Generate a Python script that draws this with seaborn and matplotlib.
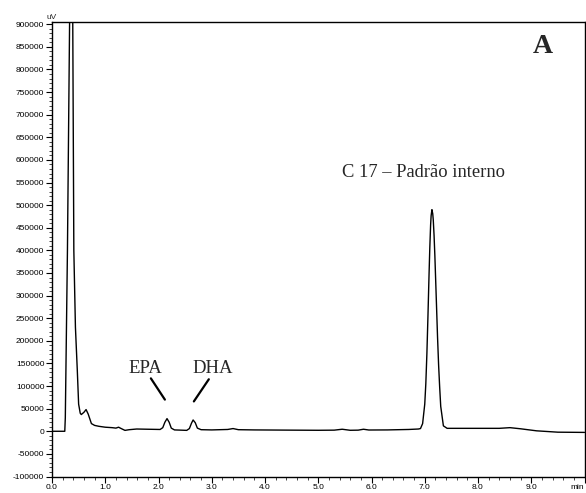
import numpy as np
import pandas as pd
import matplotlib
matplotlib.use("Agg")
import matplotlib.pyplot as plt
from matplotlib.ticker import MultipleLocator, FixedLocator
import seaborn as sns

# Chromatogram trace (time in min, signal in uV)
time_min = [0.00, 0.24, 0.25, 0.29, 0.33, 0.36, 0.39, 0.41, 0.44, 0.475, 0.50, 0.53, 0.55,
            0.60, 0.64, 0.68, 0.74, 0.80, 0.88, 1.00, 1.13, 1.20, 1.25, 1.30, 1.37, 1.45,
            1.59, 1.80, 2.03, 2.08, 2.12, 2.16, 2.20, 2.24, 2.30, 2.42, 2.53, 2.58, 2.62,
            2.65, 2.69, 2.73, 2.80, 3.00, 3.30, 3.40, 3.50, 3.80, 4.50, 5.00, 5.30, 5.45,
            5.60, 5.75, 5.85, 5.95, 6.30, 6.70, 6.88, 6.92, 6.96, 7.00, 7.02, 7.04, 7.06,
            7.08, 7.095, 7.11, 7.12, 7.135, 7.15, 7.16, 7.175, 7.19, 7.22, 7.24, 7.26,
            7.28, 7.30, 7.35, 7.42, 7.60, 8.00, 8.40, 8.60, 8.80, 9.10, 9.50, 10.0]
signal_uv = [0, 0, 30000, 400000, 900000, 1150000, 900000, 400000, 230000, 135000, 60000,
             40000, 37000, 42000, 48000, 38000, 17000, 13000, 11000, 9000, 8000, 7000, 9000,
             6000, 2000, 3500, 5000, 4500, 4000, 8000, 20000, 28000, 20000, 7000, 3000, 2500,
             2000, 6000, 18000, 25000, 19000, 7000, 3500, 3000, 4000, 6000, 3500, 3000, 2500,
             2200, 2500, 4500, 2200, 2500, 4500, 2800, 3000, 4000, 5000, 6000, 17000, 60000,
             105000, 171000, 254000, 344000, 406000, 456000, 477000, 490000, 481000, 467000,
             433000, 388000, 281000, 209000, 147000, 98000, 55000, 12000,
             6500, 6500, 6500, 6500, 8000, 5500, 1000, -2000, -2500]

x_tick_values = [0, 1, 2, 3, 4, 5, 6, 7, 8, 9, 10]
x_tick_labels = ["0.0", "1.0", "2.0", "3.0", "4.0", "5.0", "6.0", "7.0", "8.0", "9.0", "min"]

# Annotations
peak_labels = ["EPA", "DHA"]
peak_label_pos = [(1.76, 138000), (3.02, 138000)]
peak_pointer = [((1.857, 117000), (2.12, 70000)), ((2.945, 115000), (2.664, 66000))]
standard_label = "C 17 – Padrão interno"
panel_label = "A"

df = pd.DataFrame({"time": time_min, "signal": signal_uv})

sns.set_style("ticks")
plt.rcParams["font.family"] = ["Liberation Sans", "DejaVu Sans"]

fig = plt.figure(figsize=(5.86, 4.93), dpi=100)
ax = fig.add_axes([52 / 586, 1 - 476.5 / 493, (584.5 - 52) / 586, (476.5 - 22) / 493])

sns.lineplot(data=df, x="time", y="signal", ax=ax, color="black", lw=1.0,
             estimator=None, sort=False)

ax.set_xlim(0, 10)
ax.set_ylim(-100000, 905000)
ax.set_xlabel("")
ax.set_ylabel("")

ax.xaxis.set_major_locator(FixedLocator(x_tick_values))
ax.set_xticklabels(x_tick_labels)
ax.xaxis.set_minor_locator(MultipleLocator(0.2))
ax.yaxis.set_major_locator(MultipleLocator(50000))
ax.yaxis.set_minor_locator(MultipleLocator(10000))
ax.yaxis.set_major_formatter(matplotlib.ticker.FuncFormatter(lambda v, p: f"{int(round(v))}"))

ax.tick_params(axis="both", which="major", labelsize=6, length=4, width=0.8,
               direction="out", pad=1.5, colors="black")
ax.tick_params(axis="both", which="minor", length=2.5, width=0.6, direction="out")
ax.get_xticklabels()[-1].set_horizontalalignment("right")
for s in ax.spines.values():
    s.set_linewidth(1.0)
    s.set_color("black")

ax.text(0, 1.003, "uV", transform=ax.transAxes, ha="center", va="bottom", fontsize=6)

serif = ["Liberation Serif", "DejaVu Serif"]
for lab, (tx, ty), ((x1, y1), (x2, y2)) in zip(peak_labels, peak_label_pos, peak_pointer):
    ax.text(tx, ty, lab, ha="center", va="center", fontsize=13.5, family=serif)
    ax.plot([x1, x2], [y1, y2], color="black", lw=1.6)

ax.text(5.44, 572000, standard_label, ha="left", va="center", fontsize=13.3, family=serif)
ax.text(9.21, 851000, panel_label, ha="center", va="center", fontsize=20,
        fontweight="bold", family=serif)

fig.savefig("out.png", dpi=100)
